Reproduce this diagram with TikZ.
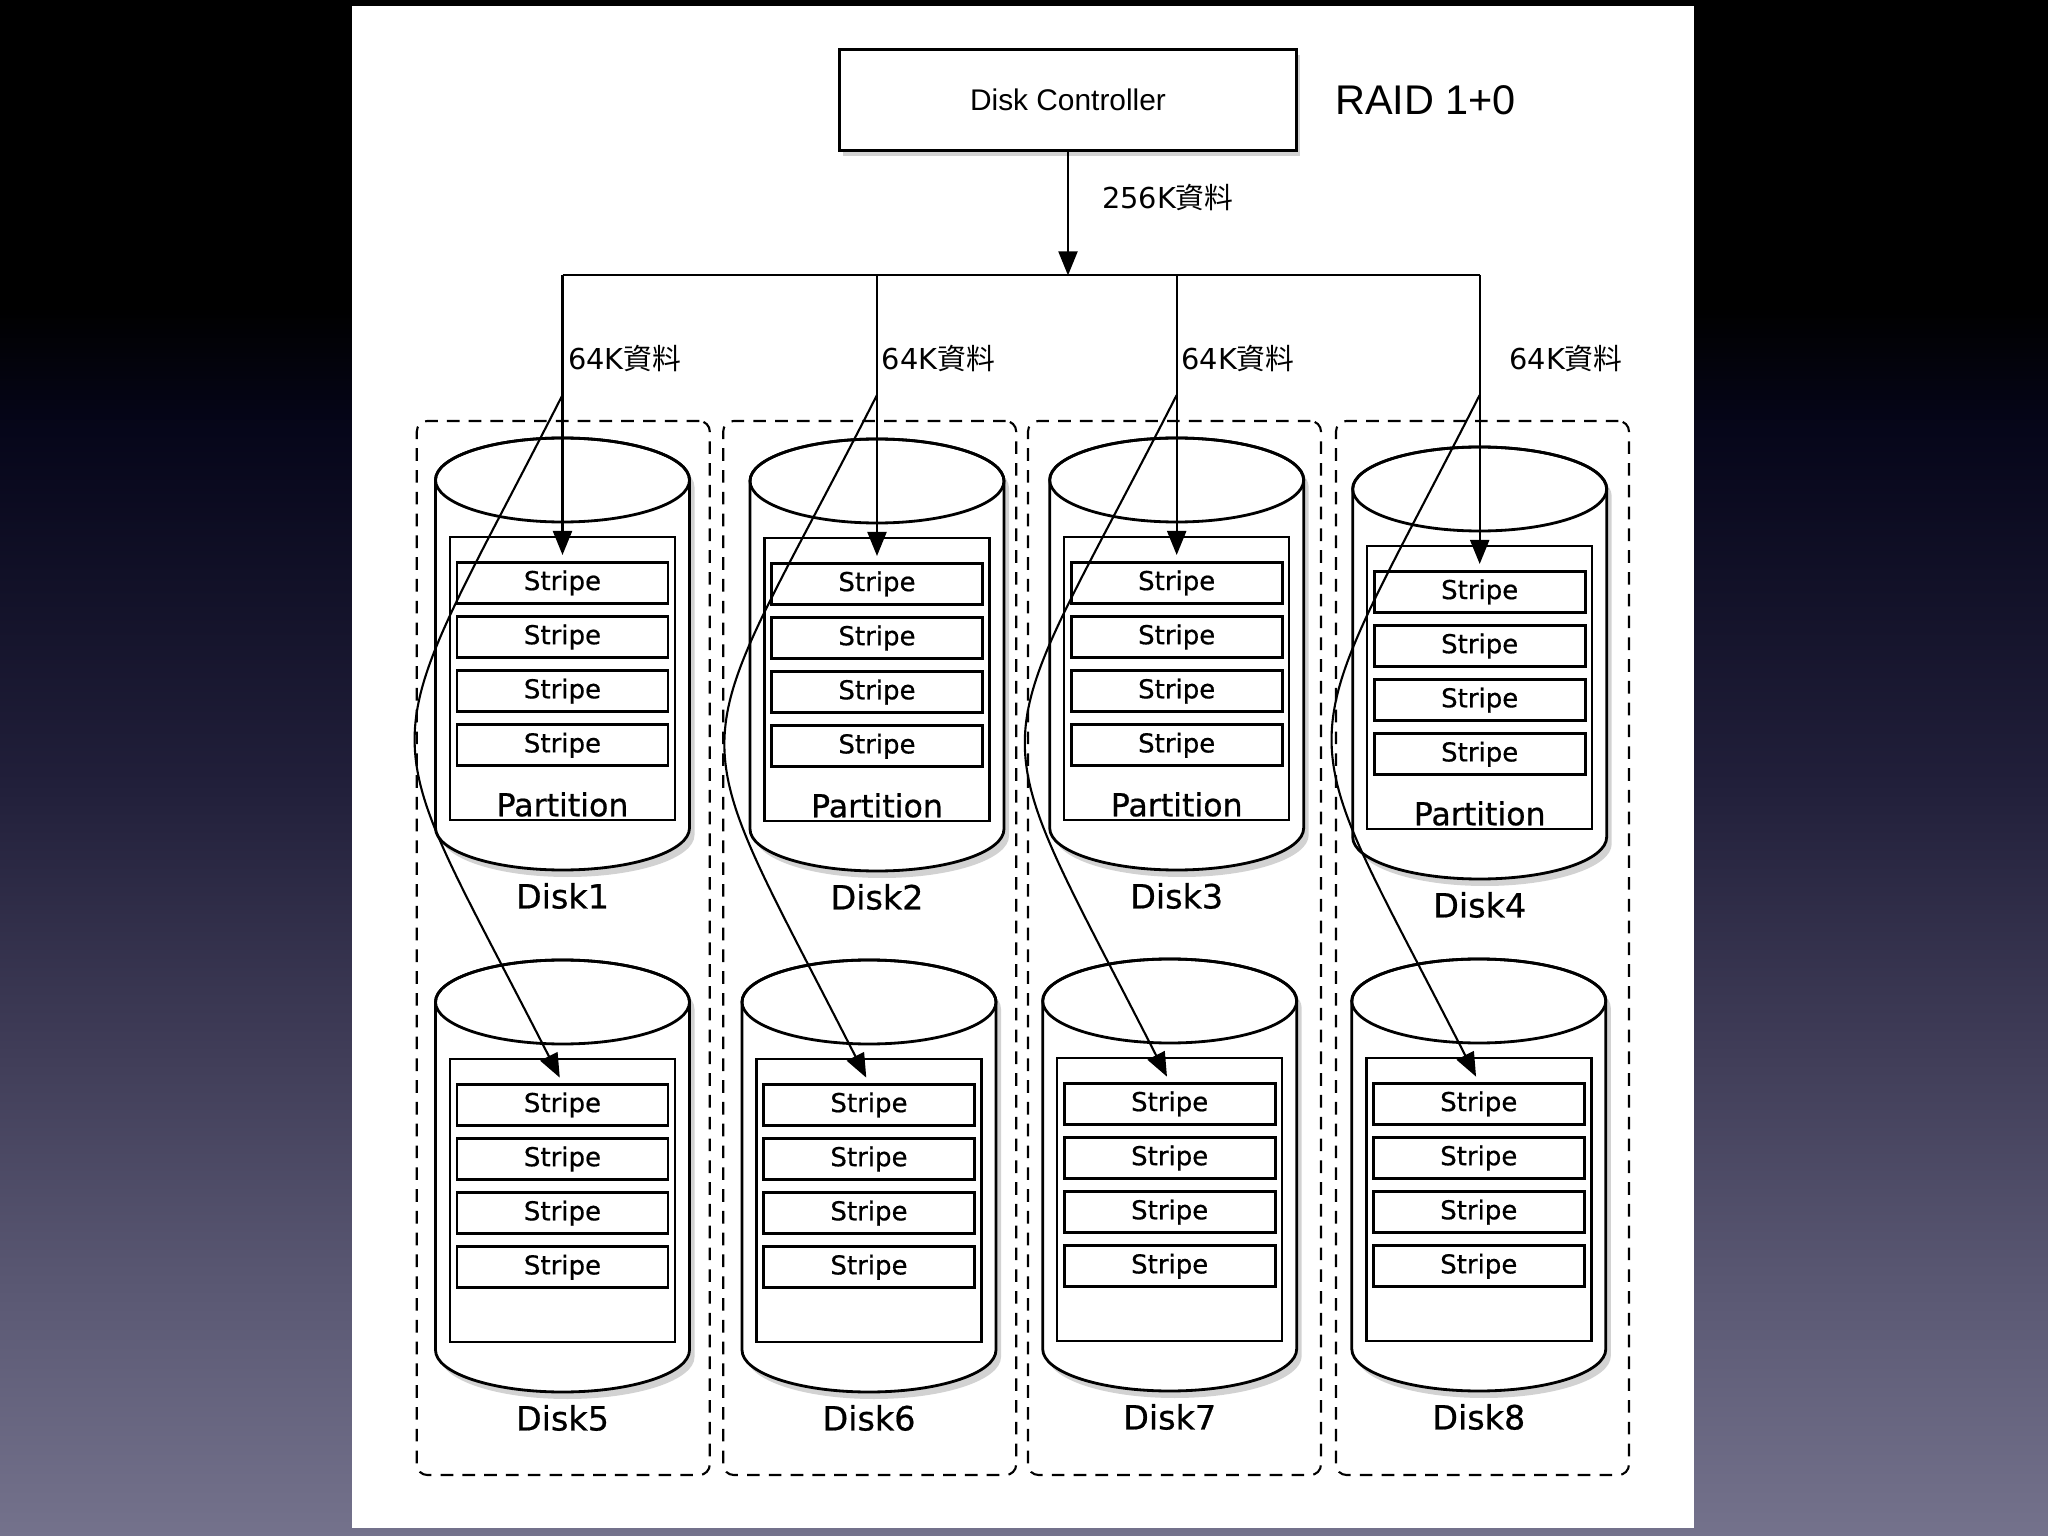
\documentclass[tikz,border=0pt]{standalone}
\usepackage{fontspec}
\setmainfont{DejaVu Sans}
\newfontfamily\helv{Liberation Sans}
\newfontfamily\heavy[FakeBold=0.6]{DejaVu Sans}
\newfontfamily\cjk{Noto Sans CJK TC}
\usetikzlibrary{arrows.meta,positioning,shadows,calc}

\definecolor{bgA}{HTML}{74728C}
\definecolor{bgB}{HTML}{5C5A75}
\definecolor{bgC}{HTML}{3F3C57}
\definecolor{bgD}{HTML}{211F3A}
\definecolor{bgE}{HTML}{06061A}
% the middle 50bp of the shading are stretched over the page
\pgfdeclareverticalshading{slidebg}{100bp}{color(0bp)=(bgA); color(25bp)=(bgA); color(32.5bp)=(bgB); color(41bp)=(bgC); color(49.5bp)=(bgD); color(61bp)=(bgE); color(65bp)=(black); color(100bp)=(black)}

\begin{document}
\begin{tikzpicture}[
    controller/.style={rectangle, draw=black, line width=0.8pt, fill=white, minimum width=4.57cm, minimum height=1.01cm, font=\helv\fontsize{8.5}{10}\selectfont, drop shadow={shadow xshift=0.03cm, shadow yshift=-0.06cm, opacity=0.35}},
    mirror/.style={rectangle, draw=black, line width=0.6pt, dash pattern=on 3.6pt off 2.6pt, rounded corners=3pt, minimum width=2.93cm, minimum height=10.54cm},
    diskbody/.style={draw=black, line width=0.8pt, fill=white, drop shadow={shadow xshift=0.05cm, shadow yshift=-0.07cm, opacity=0.35}},
    partbox/.style={rectangle, draw=black, line width=0.7pt, fill=white, minimum width=2.25cm, minimum height=2.83cm, inner sep=0pt},
    stripebox/.style={rectangle, draw=black, line width=0.8pt, fill=white, minimum width=2.11cm, minimum height=0.41cm, inner sep=0pt, font=\heavy\fontsize{7.4}{8}\selectfont},
    partlabel/.style={inner sep=0pt, font=\heavy\fontsize{9}{10}\selectfont},
    disklabel/.style={inner sep=0pt, font=\heavy\fontsize{9.5}{11}\selectfont},
    datalabel/.style={inner sep=0pt, font=\fontsize{8.2}{10}\selectfont},
    line/.style={line width=0.6pt},
    arrow/.style={line width=0.6pt, -{Triangle[length=0.24cm, width=0.19cm]}}
]
    \useasboundingbox (0,0) rectangle (20.48,-15.36);
    % slide background and white page
    \shade[shading=slidebg] (0,0) rectangle (20.48,-15.36);
    \fill[white] (3.52,-0.06) rectangle (16.94,-15.28);

    \node[controller] (ctrl) at (10.68,-1.00) {Disk Controller};
    \node[right=0.365cm of ctrl, inner sep=0pt, font=\helv\fontsize{11.8}{14}\selectfont] (raid) {RAID 1+0};

    % mirrored pairs
    \foreach \i/\x in {1/5.633, 2/8.697, 3/11.745, 4/14.825}
        \node[mirror] (pair\i) at (\x,-9.48) {};

    % disks
    \foreach \n/\x/\y in {1/5.625/4.80, 2/8.77/4.81, 3/11.767/4.80, 4/14.797/4.89,
                          5/5.625/10.02, 6/8.69/10.02, 7/11.697/10.01, 8/14.788/10.01} {
        \draw[diskbody] (\x-1.27,-\y) -- ++(0,-3.48)
            arc[start angle=180, end angle=360, x radius=1.27, y radius=0.42]
            -- ++(0,3.48)
            arc[start angle=0, end angle=180, x radius=1.27, y radius=0.42] -- cycle;
        \draw[line width=0.8pt] (\x,-\y) ellipse[x radius=1.27, y radius=0.42];
        \node[partbox, anchor=north] (p\n) at (\x,-\y-0.56) {};
        \node[stripebox, below=0.25cm of p\n.north] (s\n-1) {Stripe};
        \node[stripebox, below=0.103cm of s\n-1] (s\n-2) {Stripe};
        \node[stripebox, below=0.103cm of s\n-2] (s\n-3) {Stripe};
        \node[stripebox, below=0.103cm of s\n-3] (s\n-4) {Stripe};
        \ifnum\n<5
            \node[partlabel] (pl\n) at ([yshift=0.17cm]p\n.south) {Partition};
        \fi
        \node[disklabel] (d\n) at (\x,-\y-4.16) {Disk\n};
    }

    % data paths
    \coordinate (bus) at ($(ctrl.south)+(0,-1.235)$);
    \draw[arrow] (ctrl.south) -- node[datalabel, pos=0.37, right=0.33cm] {256K\cjk 資料} (bus);
    \draw[line] (s1-1.north |- bus) -- (s4-1.north |- bus);
    \foreach \i/\dx in {1/0.05, 2/0.04, 3/0.04, 4/0.29} {
        \pgfmathtruncatemacro{\j}{\i+4}
        \draw[arrow, shorten >=0.6mm] (s\i-1.north |- bus) -- (s\i-1.north);
        \node[datalabel, anchor=west] (k\i) at ([xshift=\dx cm]s\i-1.north |- 0,-3.59) {64K\cjk 資料};
        \coordinate (split\i) at (s\i-1.north |- 0,-3.95);
        \draw[arrow, shorten >=0.6mm] (split\i) to[out=243, in=117, looseness=1.6] (s\j-1.north);
    }
\end{tikzpicture}
\end{document}
